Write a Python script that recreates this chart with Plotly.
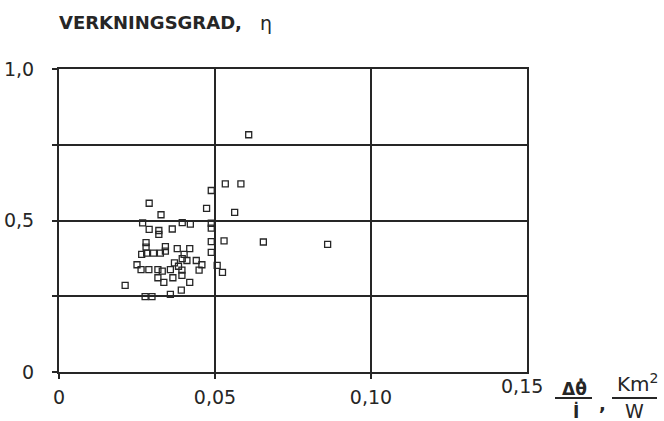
import plotly.graph_objects as go

# Data: x = Δθ/I (Km²/W), y = efficiency η
x_vals = [0.0533, 0.0583, 0.0488, 0.0289, 0.0473, 0.0327, 0.0563, 0.0268, 0.0395, 0.0421,
          0.0488, 0.0289, 0.0320, 0.0320, 0.0363, 0.0488, 0.0488, 0.0529, 0.0279, 0.0279,
          0.0265, 0.0281, 0.0303, 0.0325, 0.0341, 0.0341, 0.0379, 0.0419, 0.0401, 0.0410,
          0.0395, 0.0488, 0.0370, 0.0440, 0.0458, 0.0507, 0.0250, 0.0263, 0.0288, 0.0317,
          0.0331, 0.0357, 0.0383, 0.0394, 0.0449, 0.0524, 0.0317, 0.0365, 0.0394, 0.0336,
          0.0419, 0.0212, 0.0392, 0.0357, 0.0276, 0.0298, 0.0608, 0.0655, 0.0861]
y_vals = [0.621, 0.621, 0.599, 0.557, 0.540, 0.519, 0.527, 0.492, 0.493, 0.488,
          0.491, 0.471, 0.467, 0.454, 0.472, 0.475, 0.430, 0.433, 0.427, 0.412,
          0.388, 0.392, 0.392, 0.392, 0.399, 0.414, 0.407, 0.407, 0.388, 0.368,
          0.374, 0.395, 0.360, 0.368, 0.354, 0.352, 0.354, 0.338, 0.338, 0.338,
          0.333, 0.338, 0.349, 0.336, 0.336, 0.329, 0.311, 0.311, 0.319, 0.296,
          0.296, 0.286, 0.270, 0.256, 0.249, 0.249, 0.783, 0.429, 0.421]

x_ticks = [0, 0.05, 0.10]
x_ticktext = ["0", "0,05", "0,10"]
y_ticks = [0, 0.5, 1.0]
y_ticktext = ["0", "0,5", "1,0"]
y_minor_ticks = [0.25, 0.75]

INK = "#262626"
FONT = "DejaVu Sans"

W, H = 664, 421
L, R, T, B = 59, 137, 69, 49
PW, PH = W - L - R, H - T - B


def px(xp):
    return (xp - L) / PW


def py(yp):
    return (H - B - yp) / PH


fig = go.Figure()
fig.add_trace(go.Scatter(
    x=x_vals, y=y_vals, mode="markers",
    marker=dict(symbol="square-open", size=6, color=INK, line=dict(width=1.3, color=INK)),
    showlegend=False, cliponaxis=False,
))

axis_common = dict(
    showline=True, linecolor=INK, linewidth=2, mirror=True,
    showgrid=True, gridcolor=INK, gridwidth=1.8, automargin=False,
    zeroline=False, ticks="outside", ticklen=5, tickwidth=2, tickcolor=INK,
    tickfont=dict(family=FONT, size=19, color=INK),
)

fig.update_xaxes(range=[0, 0.15], tickvals=x_ticks, ticktext=x_ticktext,
                 ticklabelstandoff=2, **axis_common)
fig.update_yaxes(range=[0, 1.0], tickvals=y_ticks, ticktext=y_ticktext,
                 ticklabelstandoff=14,
                 minor=dict(tickvals=y_minor_ticks, showgrid=True, gridcolor=INK, gridwidth=1.8,
                            ticks="outside", ticklen=5, tickwidth=2, tickcolor=INK),
                 **axis_common)

ann = []
ann.append(dict(text="<b>VERKNINGSGRAD,</b>", x=px(57), y=py(22), xanchor="left", yanchor="middle",
                font=dict(family=FONT, size=18, color=INK)))
ann.append(dict(text="η", x=px(266), y=py(23), xanchor="center", yanchor="middle",
                font=dict(family=FONT, size=19, color=INK)))
ann.append(dict(text="0,15", x=px(522), y=py(386), xanchor="center", yanchor="middle",
                font=dict(family=FONT, size=19, color=INK)))
ann.append(dict(text="<b>Δθ̇</b>", x=px(574), y=py(388), xanchor="center", yanchor="middle",
                font=dict(family=FONT, size=17, color=INK)))
ann.append(dict(text="<b>İ</b>", x=px(576), y=py(411), xanchor="center", yanchor="middle",
                font=dict(family=FONT, size=17, color=INK)))
ann.append(dict(text="<b>,</b>", x=px(602), y=py(403), xanchor="center", yanchor="middle",
                font=dict(family=FONT, size=18, color=INK)))
ann.append(dict(text="Km<sup>2</sup>", x=px(638), y=py(383), xanchor="center", yanchor="middle",
                font=dict(family=FONT, size=20, color=INK)))
ann.append(dict(text="W", x=px(634), y=py(411), xanchor="center", yanchor="middle",
                font=dict(family=FONT, size=19, color=INK)))
for a in ann:
    a.update(xref="paper", yref="paper", showarrow=False)

shapes = [
    dict(type="line", xref="paper", yref="paper", x0=px(555), x1=px(592), y0=py(398), y1=py(398),
         line=dict(color=INK, width=2)),
    dict(type="line", xref="paper", yref="paper", x0=px(612), x1=px(657), y0=py(398), y1=py(398),
         line=dict(color=INK, width=2)),
]

fig.update_layout(
    width=W, height=H,
    margin=dict(l=L, r=R, t=T, b=B, pad=0, autoexpand=False),
    paper_bgcolor="white", plot_bgcolor="white",
    annotations=ann, shapes=shapes,
    font=dict(family=FONT, color=INK),
)

fig.write_html("out.html")
